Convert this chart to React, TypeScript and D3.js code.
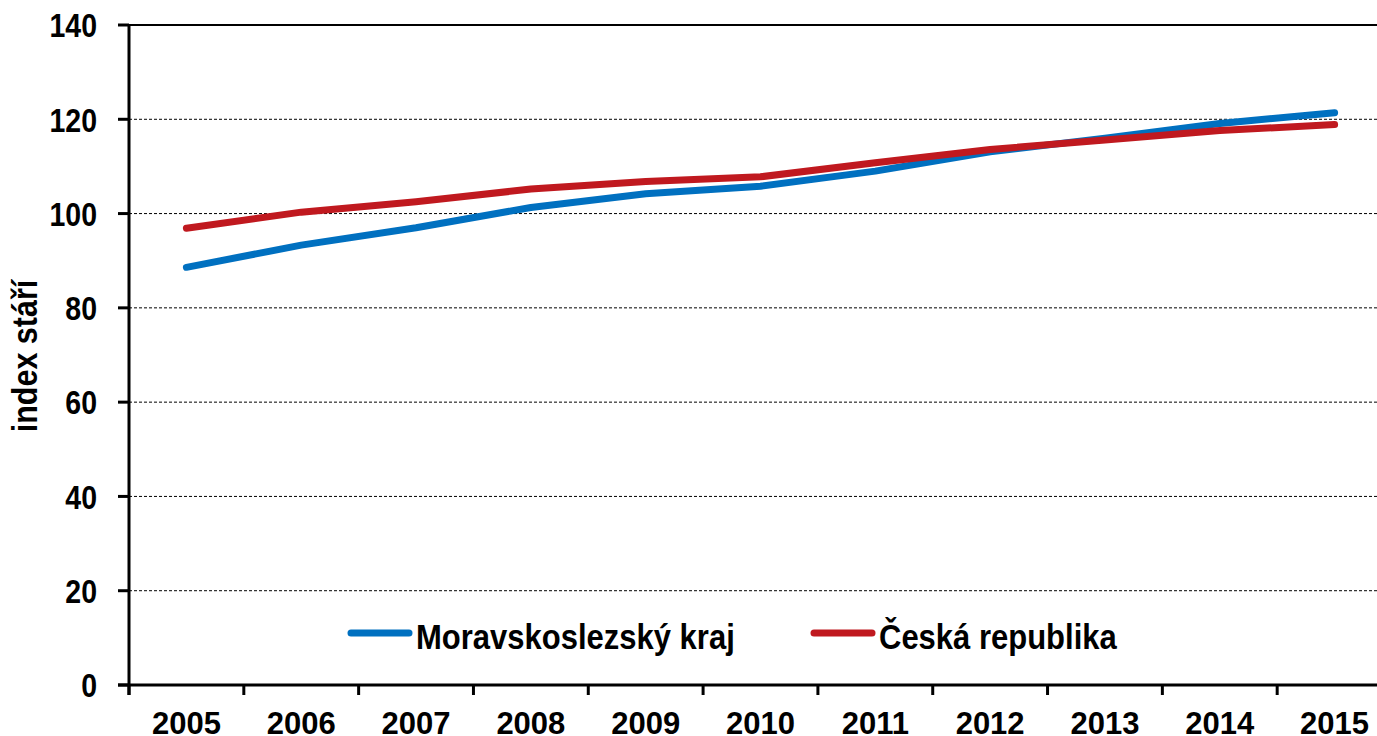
import React from "react";
import * as d3 from "d3";

const years = ["2005", "2006", "2007", "2008", "2009", "2010", "2011", "2012", "2013", "2014", "2015"];
const moravskoslezsky = [88.6, 93.3, 97.0, 101.3, 104.2, 105.8, 109.0, 113.1, 116.0, 119.1, 121.4];
const ceskaRepublika = [96.9, 100.3, 102.5, 105.2, 106.8, 107.8, 110.8, 113.6, 115.6, 117.6, 118.9];
const yTicks = [0, 20, 40, 60, 80, 100, 120, 140];
const seriesNames = ["Moravskoslezský kraj", "Česká republika"];
const colors = ["#0070C0", "#C0191F"];

const W = 1377;
const H = 736;
const left = 129;
const right = 1392;
const top = 25;
const bottom = 685;
const font = "'Liberation Sans', Arial, sans-serif";

export default function App() {
  const x = d3.scaleBand<string>().domain(years).range([left, right]).paddingInner(0).paddingOuter(0);
  const y = d3.scaleLinear().domain([0, 140]).range([bottom, top]);
  const line = d3
    .line<number>()
    .x((_, i) => (x(years[i]) as number) + x.bandwidth() / 2)
    .y((d) => y(d));
  const series = [moravskoslezsky, ceskaRepublika];
  const boundaries = years.map((yr) => x(yr) as number).concat([right]);

  return (
    <svg
      width={W}
      height={H}
      style={{ position: "absolute", left: 0, top: 0, background: "#fff" }}
      fontFamily={font}
    >
      <rect x={0} y={0} width={W} height={H} fill="#fff" />
      {yTicks
        .filter((t) => t > 0 && t < 140)
        .map((t) => (
          <line
            key={"g" + t}
            x1={left}
            x2={W}
            y1={y(t)}
            y2={y(t)}
            stroke="#000"
            strokeWidth={1}
            strokeDasharray="3,2"
          />
        ))}
      <line x1={left} x2={W} y1={y(140)} y2={y(140)} stroke="#000" strokeWidth={2} />
      <line x1={left} x2={left} y1={top - 1} y2={bottom + 10} stroke="#000" strokeWidth={3} />
      {yTicks.map((t) => (
        <g key={"yt" + t}>
          <line x1={left - 11} x2={left} y1={y(t)} y2={y(t)} stroke="#000" strokeWidth={3} />
          <text
            transform={`translate(97,${y(t) + 12.3}) scale(1,1.14)`}
            textAnchor="end"
            fontSize={28.5}
            fontWeight="bold"
            fill="#000"
          >
            {t}
          </text>
        </g>
      ))}
      <line x1={left - 11} x2={W} y1={bottom} y2={bottom} stroke="#000" strokeWidth={3} />
      {boundaries.map((b, i) => (
        <line key={"xt" + i} x1={b} x2={b} y1={bottom} y2={bottom + 10} stroke="#000" strokeWidth={3} />
      ))}
      {years.map((yr) => (
        <text
          key={"xl" + yr}
          x={(x(yr) as number) + x.bandwidth() / 2}
          y={734}
          textAnchor="middle"
          fontSize={31}
          fontWeight="bold"
          fill="#000"
        >
          {yr}
        </text>
      ))}
      <text
        transform={`translate(37,356) rotate(-90) scale(1,1.12)`}
        textAnchor="middle"
        fontSize={30.5}
        fontWeight="bold"
        fill="#000"
      >
        index stáří
      </text>
      {series.map((s, i) => (
        <path
          key={"s" + i}
          d={line(s) || ""}
          fill="none"
          stroke={colors[i]}
          strokeWidth={7}
          strokeLinecap="round"
          strokeLinejoin="round"
        />
      ))}
      {seriesNames.map((n, i) => {
        const lx = i === 0 ? 351 : 814;
        return (
          <g key={"lg" + i}>
            <line x1={lx} x2={lx + 58} y1={633} y2={633} stroke={colors[i]} strokeWidth={7} strokeLinecap="round" />
            <text
              transform={`translate(${lx + 65},649) scale(1,1.12)`}
              fontSize={31}
              fontWeight="bold"
              fill="#000"
            >
              {n}
            </text>
          </g>
        );
      })}
    </svg>
  );
}
